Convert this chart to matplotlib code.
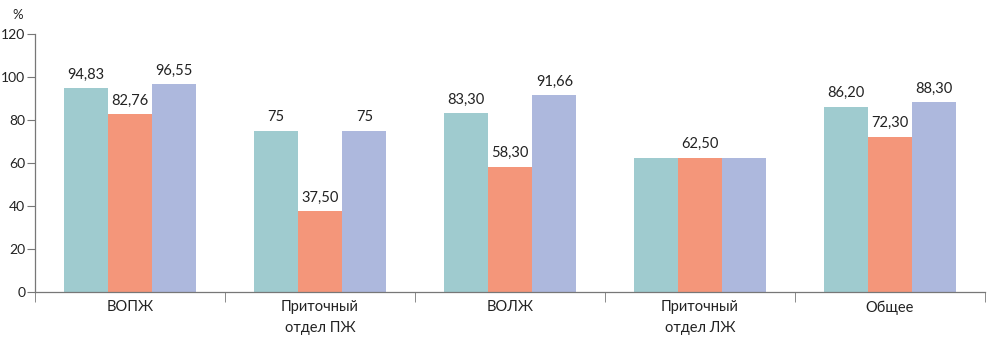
import numpy as np
import matplotlib.pyplot as plt

plt.rcParams['font.family'] = ['Lato', 'DejaVu Sans']

categories = ['ВОПЖ', 'Приточный\nотдел ПЖ', 'ВОЛЖ', 'Приточный\nотдел ЛЖ', 'Общее']
series_a = [94.83, 75, 83.30, 62.50, 86.20]
series_b = [82.76, 37.50, 58.30, 62.50, 72.30]
series_c = [96.55, 75, 91.66, 62.50, 88.30]
labels_a = ['94,83', '75', '83,30', '', '86,20']
labels_b = ['82,76', '37,50', '58,30', '62,50', '72,30']
labels_c = ['96,55', '75', '91,66', '', '88,30']

colors = ['#9fcbcf', '#f4967a', '#adb8dd']

fig = plt.figure(figsize=(9.9, 3.41), dpi=100)
ax = fig.add_axes([0.0354, 0.1437, 0.9596, 0.7566])

x = np.arange(len(categories))
w = 0.233
for offset, vals, labs, col in zip([-w, 0, w], [series_a, series_b, series_c],
                                   [labels_a, labels_b, labels_c], colors):
    bars = ax.bar(x + offset, vals, width=w, color=col, linewidth=0)
    for b, lab in zip(bars, labs):
        if lab:
            ax.text(b.get_x() + b.get_width() / 2, b.get_height() + 3, lab,
                    ha='center', va='bottom', fontsize=10.5, color='#222222')

ax.set_xlim(-0.5, len(categories) - 0.5)
ax.set_ylim(0, 120)
ax.set_yticks(range(0, 121, 20))
ax.set_xticks(x)
ax.set_xticklabels(categories, fontsize=10.5, color='#222222', linespacing=1.6)
ax.set_xticks(np.arange(-0.5, len(categories)), minor=True)
ax.tick_params(axis='x', which='major', length=0, pad=6)
ax.tick_params(axis='x', which='minor', length=7, color='#777777', direction='out')
ax.tick_params(axis='y', length=6, color='#777777', labelsize=10,
               labelcolor='#222222', pad=1)

for s in ['top', 'right']:
    ax.spines[s].set_visible(False)
for s in ['left', 'bottom']:
    ax.spines[s].set_color('#777777')
    ax.spines[s].set_linewidth(0.9)

fig.text(0.012, 0.975, '%', fontsize=9.5, color='#222222', va='top')

fig.savefig('out.png', dpi=100)
